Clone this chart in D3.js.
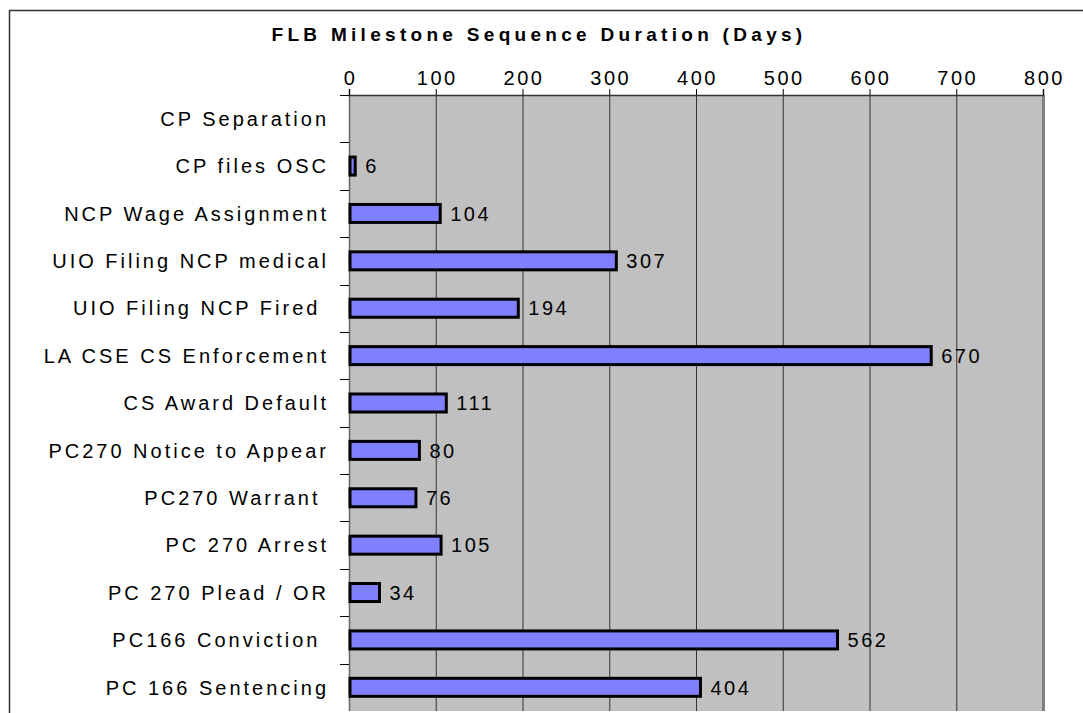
<!DOCTYPE html>
<html>
<head>
<meta charset="utf-8">
<script src="https://cdn.jsdelivr.net/npm/d3@7"></script>
<style>
  body { margin: 0; background: #fff; }
  text { font-family: "Liberation Sans", Arial, sans-serif; fill: #000; white-space: pre; }
</style>
</head>
<body>
<div id="chart"></div>
<script>
// data (some labels carry a trailing space, as in the original)
var milestones = ["CP Separation", "CP files OSC", "NCP Wage Assignment", "UIO Filing NCP medical",
    "UIO Filing NCP Fired ", "LA CSE CS Enforcement", "CS Award Default", "PC270 Notice to Appear",
    "PC270 Warrant ", "PC 270 Arrest", "PC 270 Plead / OR", "PC166 Conviction ", "PC 166 Sentencing"];
var days = [0, 6, 104, 307, 194, 670, 111, 80, 76, 105, 34, 562, 404];
var xTicks = [0, 100, 200, 300, 400, 500, 600, 700, 800];
var title = "FLB Milestone Sequence Duration (Days)";

var svgWidth = 1083;
var svgHeight = 713;

// plot area
var margin = { top: 95, left: 349, right: 1043, bottom: 711 };

var svg = d3.select("#chart")
    .append("svg")
    .attr("width", svgWidth)
    .attr("height", svgHeight);

// outer frame (runs off the right and bottom)
svg.append("rect")
    .attr("x", 9.5)
    .attr("y", 10.5)
    .attr("width", svgWidth)
    .attr("height", svgHeight)
    .attr("fill", "none")
    .attr("stroke", "#333")
    .attr("stroke-width", 1.5);

var xScale = d3.scaleLinear()
    .domain([0, 800])
    .range([margin.left, margin.right]);

var yScale = d3.scaleBand()
    .domain(milestones)
    .range([margin.top, margin.bottom])
    .paddingInner(0.62)
    .paddingOuter(0.31);

var step = yScale.step();

// grey plot background
svg.append("rect")
    .attr("x", margin.left)
    .attr("y", margin.top)
    .attr("width", margin.right - margin.left)
    .attr("height", margin.bottom - margin.top)
    .attr("fill", "#c0c0c0");

// vertical gridlines
svg.append("g")
    .selectAll("line")
    .data(xTicks.slice(1, -1))
    .enter()
    .append("line")
    .attr("x1", d => xScale(d) + 0.5)
    .attr("x2", d => xScale(d) + 0.5)
    .attr("y1", margin.top)
    .attr("y2", margin.bottom)
    .attr("stroke", "#333")
    .attr("stroke-width", 1);

// right edge of plot
svg.append("line")
    .attr("x1", margin.right + 0.5).attr("x2", margin.right + 0.5)
    .attr("y1", margin.top).attr("y2", margin.bottom)
    .attr("stroke", "#808080").attr("stroke-width", 3);

// left edge of plot
svg.append("line")
    .attr("x1", margin.left + 0.5).attr("x2", margin.left + 0.5)
    .attr("y1", margin.top).attr("y2", margin.bottom)
    .attr("stroke", "#666").attr("stroke-width", 1.5);

// top axis
var xAxis = d3.axisTop(xScale)
    .tickValues(xTicks)
    .tickSize(6)
    .tickPadding(4)
    .tickFormat(d3.format("d"));

var xAxisG = svg.append("g")
    .attr("transform", `translate(0,${margin.top})`)
    .call(xAxis);
xAxisG.select(".domain").attr("stroke", "#333").attr("stroke-width", 1.5);
xAxisG.selectAll(".tick line").attr("stroke", "#000");
xAxisG.selectAll(".tick text")
    .attr("font-size", "20px")
    .attr("letter-spacing", "2.5px")
    .attr("font-family", "Liberation Sans, Arial, sans-serif")
    .attr("dx", "1px")
    .attr("dy", "0em");

// category ticks on the left
var bounds = d3.range(milestones.length).map(i => margin.top + i * step);
svg.append("g")
    .selectAll("line")
    .data(bounds)
    .enter()
    .append("line")
    .attr("x1", margin.left - 9)
    .attr("x2", margin.left)
    .attr("y1", d => Math.round(d) + 0.5)
    .attr("y2", d => Math.round(d) + 0.5)
    .attr("stroke", "#000");

// category labels
svg.append("g")
    .selectAll("text")
    .data(milestones)
    .enter()
    .append("text")
    .attr("x", margin.left - 20)
    .attr("y", d => yScale(d) + yScale.bandwidth() / 2)
    .attr("dy", "0.36em")
    .attr("text-anchor", "end")
    .attr("font-size", "20px")
    .attr("letter-spacing", "3px")
    .text(d => d);

// bars
var data = milestones.map((m, i) => ({ name: m, value: days[i] }));

svg.append("g")
    .selectAll("rect")
    .data(data.filter(d => d.value > 0))
    .enter()
    .append("rect")
    .attr("x", xScale(0) + 1)
    .attr("y", d => yScale(d.name))
    .attr("width", d => xScale(d.value) - xScale(0))
    .attr("height", yScale.bandwidth())
    .attr("fill", "#8080ff")
    .attr("stroke", "#000")
    .attr("stroke-width", 3);

// value labels
svg.append("g")
    .selectAll("text")
    .data(data.filter(d => d.value > 0))
    .enter()
    .append("text")
    .attr("x", d => xScale(d.value) + 11)
    .attr("y", d => yScale(d.name) + yScale.bandwidth() / 2)
    .attr("dy", "0.36em")
    .attr("font-size", "20px")
    .attr("letter-spacing", "2.5px")
    .text(d => d.value);

// title
svg.append("text")
    .attr("x", 539)
    .attr("y", 41)
    .attr("text-anchor", "middle")
    .attr("font-size", "19px")
    .attr("font-weight", "bold")
    .attr("letter-spacing", "4.3px")
    .text(title);
</script>
</body>
</html>
